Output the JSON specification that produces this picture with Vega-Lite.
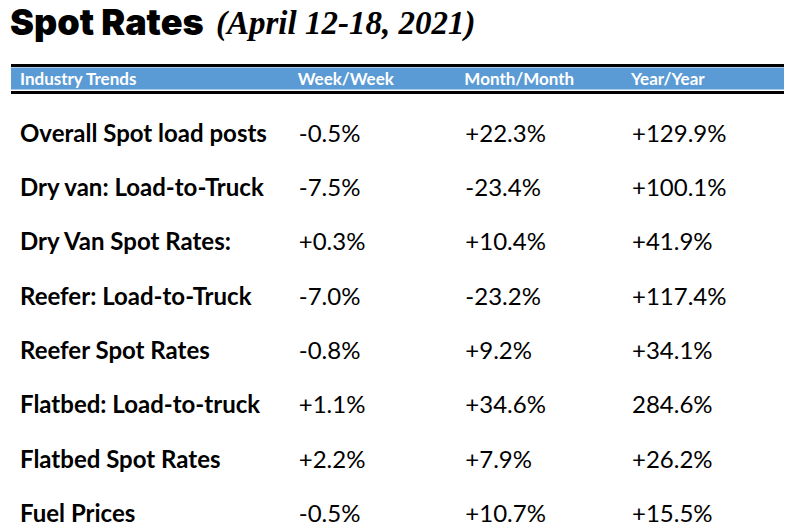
{
  "$schema": "https://vega.github.io/schema/vega-lite/v6.json",
  "width": 785,
  "height": 531,
  "autosize": {"type": "fit", "contains": "padding"},
  "padding": 0,
  "background": "white",
  "config": {"view": {"stroke": null}},
  "datasets": {
    "header": [
      {"trend": "Industry Trends", "week": "Week/Week", "month": "Month/Month", "year": "Year/Year"}
    ],
    "table": [
      {"trend": "Overall Spot load posts", "week": "-0.5%", "month": "+22.3%", "year": "+129.9%"},
      {"trend": "Dry van: Load-to-Truck", "week": "-7.5%", "month": "-23.4%", "year": "+100.1%"},
      {"trend": "Dry Van Spot Rates:", "week": "+0.3%", "month": "+10.4%", "year": "+41.9%"},
      {"trend": "Reefer: Load-to-Truck", "week": "-7.0%", "month": "-23.2%", "year": "+117.4%"},
      {"trend": "Reefer Spot Rates", "week": "-0.8%", "month": "+9.2%", "year": "+34.1%"},
      {"trend": "Flatbed: Load-to-truck", "week": "+1.1%", "month": "+34.6%", "year": "284.6%"},
      {"trend": "Flatbed Spot Rates", "week": "+2.2%", "month": "+7.9%", "year": "+26.2%"},
      {"trend": "Fuel Prices", "week": "-0.5%", "month": "+10.7%", "year": "+15.5%"}
    ],
    "title": [{"main": "Spot Rates", "dates": "(April 12-18, 2021)"}]
  },
  "layer": [
    {
      "data": {"name": "title"},
      "mark": {"type": "text", "font": "Inter", "fontWeight": 900, "fontSize": 36, "align": "left", "baseline": "alphabetic", "color": "black"},
      "encoding": {"text": {"field": "main"}, "x": {"value": 6}, "y": {"value": 35}}
    },
    {
      "data": {"name": "title"},
      "mark": {"type": "text", "font": "Liberation Serif", "fontStyle": "italic", "fontWeight": "bold", "fontSize": 33, "align": "left", "baseline": "alphabetic", "color": "black"},
      "encoding": {"text": {"field": "dates"}, "x": {"value": 212}, "y": {"value": 34}}
    },
    {
      "data": {"name": "header"},
      "mark": {"type": "rule", "color": "#5B9BD5", "strokeWidth": 22},
      "encoding": {
        "y": {"field": "trend", "type": "nominal", "axis": null,
          "scale": {"type": "point", "padding": 0, "range": [78.5, 513],
            "domain": ["Industry Trends", "Overall Spot load posts", "Dry van: Load-to-Truck", "Dry Van Spot Rates:", "Reefer: Load-to-Truck", "Reefer Spot Rates", "Flatbed: Load-to-truck", "Flatbed Spot Rates", "Fuel Prices"]}},
        "x": {"value": 7},
        "x2": {"value": 780}
      }
    },
    {
      "data": {"name": "header"},
      "mark": {"type": "rule", "color": "black", "strokeWidth": 3, "yOffset": -13},
      "encoding": {"y": {"field": "trend", "type": "nominal"}, "x": {"value": 7}, "x2": {"value": 780}}
    },
    {
      "data": {"name": "header"},
      "mark": {"type": "rule", "color": "black", "strokeWidth": 3, "yOffset": 14},
      "encoding": {"y": {"field": "trend", "type": "nominal"}, "x": {"value": 7}, "x2": {"value": 780}}
    },
    {
      "data": {"name": "header"},
      "transform": [{"fold": ["trend", "week", "month", "year"], "as": ["column", "text"]}],
      "mark": {"type": "text", "font": "Lato", "fontWeight": "bold", "fontSize": 17, "align": "left", "baseline": "middle", "color": "white", "dy": 1},
      "encoding": {
        "text": {"field": "text"},
        "y": {"field": "trend", "type": "nominal"},
        "x": {"field": "column", "type": "nominal", "axis": null,
          "scale": {"type": "point", "padding": 0, "range": [16, 627],
            "domain": ["trend", "c1", "c2", "c3", "c4", "week", "c5", "c6", "month", "c7", "c8", "year"]}}
      }
    },
    {
      "data": {"name": "table"},
      "transform": [{"fold": ["trend"], "as": ["column", "text"]}],
      "mark": {"type": "text", "font": "Lato", "fontWeight": "bold", "fontSize": 24, "align": "left", "baseline": "middle", "color": "black", "dy": 2},
      "encoding": {
        "text": {"field": "text"},
        "y": {"field": "trend", "type": "nominal"},
        "x": {"field": "column", "type": "nominal"}
      }
    },
    {
      "data": {"name": "table"},
      "transform": [{"fold": ["week", "month", "year"], "as": ["column", "text"]}],
      "mark": {"type": "text", "font": "Lato", "fontSize": 24, "align": "left", "baseline": "middle", "color": "black", "dx": 1, "dy": 2},
      "encoding": {
        "text": {"field": "text"},
        "y": {"field": "trend", "type": "nominal"},
        "x": {"field": "column", "type": "nominal"}
      }
    }
  ]
}
